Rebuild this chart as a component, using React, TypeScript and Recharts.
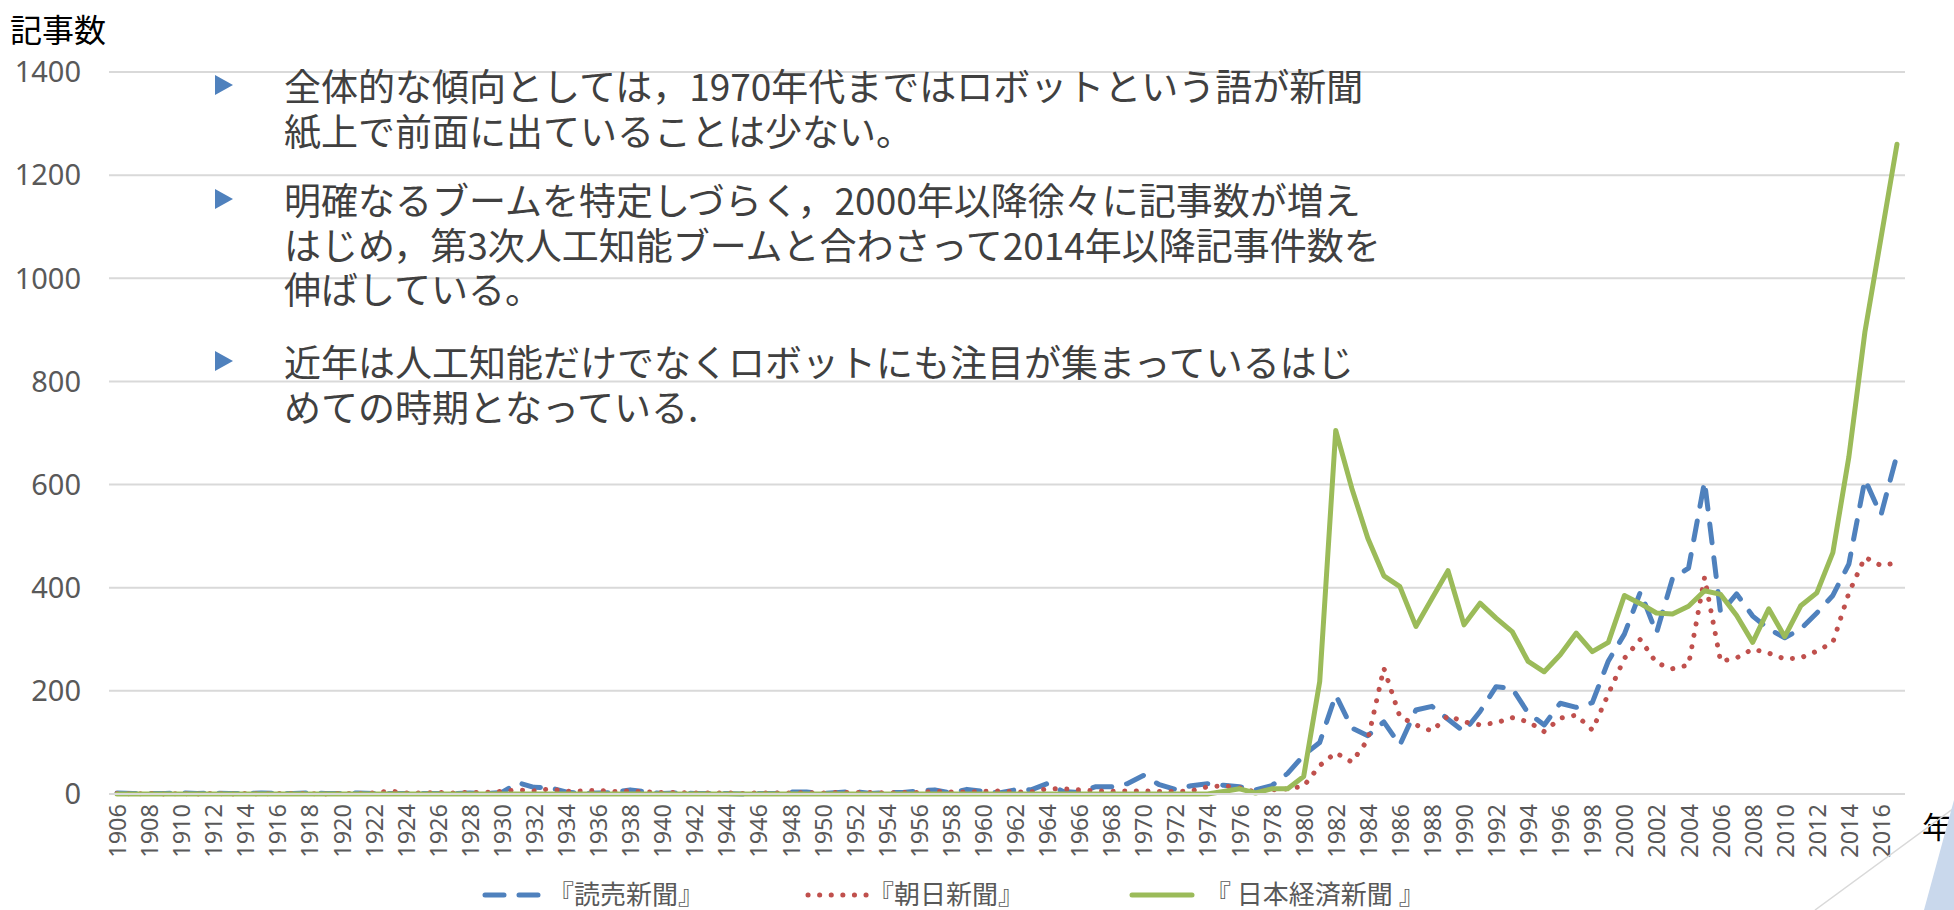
import React from 'react';
import { LineChart, Line, XAxis, YAxis, CartesianGrid } from 'recharts';

const YEARS = [
  '1906', '1907', '1908', '1909', '1910', '1911', '1912', '1913', '1914', '1915',
  '1916', '1917', '1918', '1919', '1920', '1921', '1922', '1923', '1924', '1925',
  '1926', '1927', '1928', '1929', '1930', '1931', '1932', '1933', '1934', '1935',
  '1936', '1937', '1938', '1939', '1940', '1941', '1942', '1943', '1944', '1945',
  '1946', '1947', '1948', '1949', '1950', '1951', '1952', '1953', '1954', '1955',
  '1956', '1957', '1958', '1959', '1960', '1961', '1962', '1963', '1964', '1965',
  '1966', '1967', '1968', '1969', '1970', '1971', '1972', '1973', '1974', '1975',
  '1976', '1977', '1978', '1979', '1980', '1981', '1982', '1983', '1984', '1985',
  '1986', '1987', '1988', '1989', '1990', '1991', '1992', '1993', '1994', '1995',
  '1996', '1997', '1998', '1999', '2000', '2001', '2002', '2003', '2004', '2005',
  '2006', '2007', '2008', '2009', '2010', '2011', '2012', '2013', '2014', '2015',
  '2016', '2017',
];

// 『読売新聞』
const YOMIURI = [
  2, 1, 1, 1, 2, 1, 2, 1, 1, 2,
  1, 1, 2, 1, 1, 2, 1, 1, 1, 1,
  1, 1, 2, 1, 3, 22, 13, 12, 4, 1,
  2, 3, 8, 4, 1, 2, 1, 1, 1, 0,
  1, 1, 4, 4, 1, 3, 5, 1, 3, 3,
  6, 8, 2, 9, 5, 2, 8, 8, 20, 5,
  3, 14, 14, 20, 36, 18, 9, 16, 20, 17,
  14, 8, 16, 40, 75, 100, 192, 128, 113, 140,
  95, 163, 170, 145, 121, 160, 208, 205, 157, 134,
  176, 168, 177, 258, 310, 392, 312, 418, 438, 606,
  351, 388, 345, 320, 303, 320, 351, 385, 446, 610,
  541, 658,
];

// 『朝日新聞』
const ASAHI = [
  1, 0, 1, 0, 1, 0, 1, 0, 1, 0,
  1, 1, 1, 0, 1, 1, 2, 6, 2, 2,
  3, 2, 3, 3, 5, 8, 6, 10, 5, 6,
  7, 5, 6, 4, 3, 3, 2, 2, 2, 1,
  2, 2, 2, 3, 2, 3, 3, 3, 2, 3,
  3, 5, 4, 4, 5, 6, 4, 4, 10, 10,
  8, 6, 5, 6, 6, 5, 5, 6, 14, 16,
  12, 4, 8, 10, 15, 55, 80, 62, 105, 244,
  150, 134, 122, 152, 140, 134, 138, 148, 140, 121,
  147, 153, 124, 194, 263, 300, 254, 243, 250, 420,
  257, 264, 281, 273, 262, 264, 277, 294, 390, 459,
  443, 448,
];

// 『日本経済新聞』
const NIKKEI = [
  0, 0, 0, 0, 0, 0, 0, 0, 0, 0,
  0, 0, 0, 0, 0, 0, 0, 0, 0, 0,
  0, 0, 0, 0, 0, 0, 0, 0, 0, 0,
  0, 0, 0, 0, 0, 0, 0, 0, 0, 0,
  0, 0, 0, 0, 0, 0, 0, 0, 0, 0,
  0, 0, 0, 0, 0, 0, 0, 0, 0, 0,
  0, 0, 0, 0, 0, 0, 0, 0, 0, 5,
  10, 2, 10, 10, 34, 218, 705, 593, 496, 423,
  402, 325, 379, 433, 328, 370, 341, 315, 257, 237,
  270, 312, 276, 294, 385, 369, 351, 349, 364, 394,
  387, 346, 294, 359, 305, 365, 390, 468, 654, 896,
  1078, 1260,
];

const Y_TICKS = [0, 200, 400, 600, 800, 1000, 1200, 1400];

const SERIES = [
  { key: 'yomiuri', name: '『読売新聞』', color: '#4f81bd', dash: '19 15' },
  { key: 'asahi', name: '『朝日新聞』', color: '#c0504d', dash: '0.1 11.5' },
  { key: 'nikkei', name: '『 日本経済新聞 』', color: '#9bbb59', dash: undefined },
];

const NOTES = [
  ['全体的な傾向としては，1970年代まではロボットという語が新聞', '紙上で前面に出ていることは少ない。'],
  [
    '明確なるブームを特定しづらく，2000年以降徐々に記事数が増え',
    'はじめ，第3次人工知能ブームと合わさって2014年以降記事件数を',
    '伸ばしている。',
  ],
  ['近年は人工知能だけでなくロボットにも注目が集まっているはじ', 'めての時期となっている.'],
];

const data = YEARS.map((year, i) => ({
  year,
  yomiuri: YOMIURI[i],
  asahi: ASAHI[i],
  nikkei: NIKKEI[i],
}));

const W = 1954;
const H = 910;
const JP = '"Noto Sans CJK JP", "Noto Sans", sans-serif';

const YearTick = (props: any) => {
  const { x, y, payload } = props;
  return (
    <text
      transform={`translate(${x},${y + 10}) rotate(-90)`}
      textAnchor="end"
      dominantBaseline="central"
      fill="#595959"
      fontSize={23.5}
      fontFamily='"Noto Sans", sans-serif'
    >
      {payload.value}
    </text>
  );
};

const noteTops = [63, 177, 339];
const legendPos = [
  { sample: 481, text: 548 },
  { sample: 804, text: 868 },
  { sample: 1128, text: 1205 },
];

export default function App() {
  return (
    <div
      style={{
        position: 'absolute',
        left: 0,
        top: 0,
        width: W,
        height: H,
        background: '#fff',
        overflow: 'hidden',
        fontFamily: JP,
      }}
    >
      <LineChart width={W} height={H} data={data} margin={{ top: 72, right: 49, bottom: 56, left: 0 }}>
        <CartesianGrid vertical={false} stroke="#d9d9d9" strokeWidth={2} />
        <XAxis
          dataKey="year"
          interval={1}
          padding={{ left: 8, right: 8 }}
          height={60}
          tickLine={false}
          tickSize={0}
          tickMargin={0}
          axisLine={{ stroke: '#d9d9d9', strokeWidth: 2 }}
          tick={(p: any) => <YearTick {...p} />}
        />
        <YAxis
          domain={[0, 1400]}
          ticks={Y_TICKS}
          width={109}
          axisLine={false}
          tickLine={false}
          tickSize={0}
          tickMargin={28}
          tick={{ fill: '#595959', fontSize: 29, fontFamily: '"Noto Sans", sans-serif' }}
        />
        {SERIES.map((s) => (
          <Line
            key={s.key}
            dataKey={s.key}
            name={s.name}
            stroke={s.color}
            strokeWidth={5}
            strokeDasharray={s.dash}
            strokeLinecap="round"
            strokeLinejoin="round"
            dot={false}
            activeDot={false}
            isAnimationActive={false}
          />
        ))}
      </LineChart>

      {/* axis titles */}
      <div style={{ position: 'absolute', left: 10, top: 8, fontSize: 32, color: '#000', lineHeight: '40px' }}>記事数</div>
      <div style={{ position: 'absolute', left: 1922, top: 805, fontSize: 30, color: '#000', lineHeight: '40px' }}>年</div>

      {/* bullet notes */}
      {NOTES.map((lines, i) => (
        <div key={i} style={{ position: 'absolute', left: 0, top: noteTops[i] }}>
          <svg width={20} height={20} style={{ position: 'absolute', left: 215, top: 12 }}>
            <polygon points="0,0 18,10 0,20" fill="#4f81bd" />
          </svg>
          <div
            style={{
              position: 'absolute',
              left: 284,
              top: 0,
              width: 1200,
              fontSize: 37,
              lineHeight: '44.5px',
              color: '#404040',
              whiteSpace: 'nowrap',
            }}
          >
            {lines.map((l, j) => (
              <div key={j}>{l}</div>
            ))}
          </div>
        </div>
      ))}

      {/* legend */}
      {SERIES.map((s, i) => (
        <div key={s.key}>
          <svg width={70} height={20} style={{ position: 'absolute', left: legendPos[i].sample, top: 885 }}>
            <line
              x1={4}
              y1={10}
              x2={64}
              y2={10}
              stroke={s.color}
              strokeWidth={5}
              strokeDasharray={s.dash}
              strokeLinecap="round"
            />
          </svg>
          <div
            style={{
              position: 'absolute',
              left: legendPos[i].text,
              top: 878,
              fontSize: 26,
              lineHeight: '30px',
              color: '#595959',
              whiteSpace: 'pre',
            }}
          >
            {s.name}
          </div>
        </div>
      ))}

      {/* slide decoration */}
      <svg width={W} height={H} style={{ position: 'absolute', left: 0, top: 0, pointerEvents: 'none' }}>
        <line x1={1815} y1={910} x2={1954} y2={808} stroke="#d9d9d9" strokeWidth={1.5} />
        <polygon points="1924,910 1954,800 1954,910" fill="#c9d8ec" />
      </svg>
    </div>
  );
}
